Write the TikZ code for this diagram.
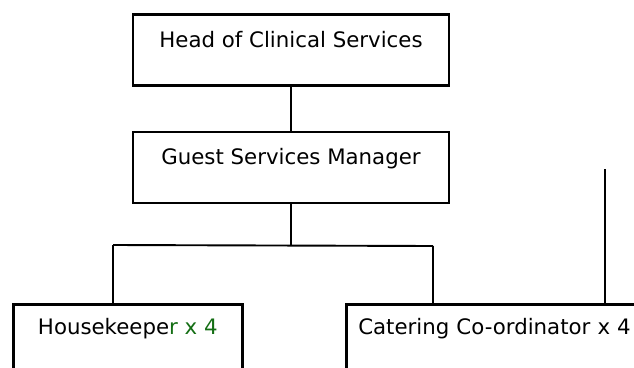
\documentclass[tikz,border=0pt]{standalone}
\usepackage{fontspec}
\setmainfont{DejaVu Sans}
\usepackage{xcolor}
\usetikzlibrary{positioning}
\definecolor{countgreen}{RGB}{20,110,20}

\begin{document}
\begin{tikzpicture}[x=1pt, y=-1pt,
    box/.style={rectangle, draw, line width=2.6pt, inner sep=0pt, font=\fontsize{21.3}{25}\selectfont},
    topbox/.style={box, minimum width=316pt, text height=33pt, text depth=38pt},
    lowbox/.style={box, anchor=north west, text height=30pt, text depth=80pt},
    link/.style={line width=1.9pt}
]
    \useasboundingbox (0,0) rectangle (634,367);
    \clip (0,0) rectangle (634,367);

    % === Management ===
    \node[topbox, anchor=north] (head) at (291, 13) {Head of Clinical Services};
    \node[topbox, below=44pt of head] (gsm) {Guest Services Manager};

    % === Staff ===
    \node[lowbox, minimum width=229pt] (housekeeper) at (12, 303)
        {Housekeepe\textcolor{countgreen}{r x 4}};
    \node[lowbox, text width=360pt, align=left, inner xsep=12pt] (catering) at (345, 303)
        {Catering Co-ordinator x 4};

    % === Links ===
    \coordinate (busL) at (113, 245);
    \coordinate (busR) at (433, 246);
    \coordinate (loose) at (605, 169);
    \draw[link] (head) -- (gsm);
    \draw[link] (gsm.south) -- (gsm.south |- busL);
    \draw[link] (busL) -- (busR);
    \draw[link] (busL) -- (busL |- housekeeper.north);
    \draw[link] (busR) -- (busR |- catering.north);
    \draw[link] (loose) -- (loose |- catering.north);

\end{tikzpicture}
\end{document}
